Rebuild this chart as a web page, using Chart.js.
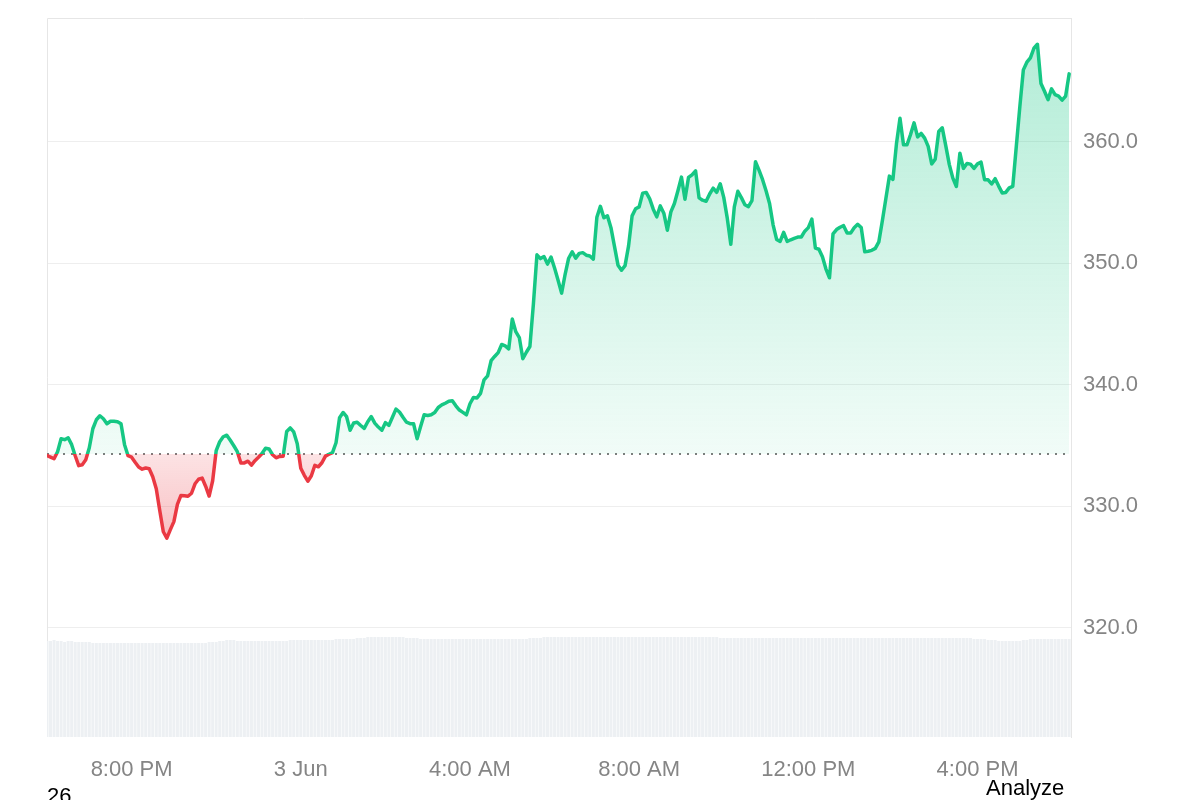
<!DOCTYPE html>
<html>
<head>
<meta charset="utf-8">
<title>Price chart</title>
<script src="https://cdn.jsdelivr.net/npm/chart.js@4.4.1/dist/chart.umd.min.js"></script>
<style>
  html, body { margin: 0; padding: 0; background: #fff; }
  #wrap { position: relative; width: 1200px; height: 800px; overflow: hidden; }
  canvas { display: block; }
  .note { position: absolute; font: 22px "Liberation Sans", Arial, sans-serif; line-height: 22px; color: #000; }
</style>
</head>
<body>
<div id="wrap">
  <canvas id="chart" width="1200" height="800"></canvas>
  <div class="note" style="left:47px;top:785px">26</div>
  <div class="note" style="left:986px;top:777px">Analyze</div>
</div>
<script>
// 24h of 5-minute closes, starting 6:00 PM on 2 Jun (hours counted from 2 Jun 00:00)
const START_HOUR = 18;
const STEP_MIN = 5;
const X_MIN = 18;
const X_MAX = 42.21;
const Y_MIN = 311;
const Y_MAX = 370.2;
const BASE_PRICE = 334.3; // opening price, dotted reference line

const prices = [
  334.16, 334.04, 333.91, 334.49, 335.56, 335.48, 335.64, 335.07, 334.16, 333.34,
  333.42, 333.83, 334.82, 336.38, 337.12, 337.45, 337.20, 336.79, 337.00, 336.99,
  336.96, 336.79, 335.07, 334.16, 334.04, 333.62, 333.23, 333.05, 333.15, 333.09,
  332.43, 331.44, 329.63, 327.90, 327.37, 328.07, 328.73, 330.16, 330.89, 330.87,
  330.82, 331.07, 331.85, 332.22, 332.32, 331.65, 330.84, 332.10, 334.57, 335.31,
  335.72, 335.85, 335.43, 334.98, 334.49, 333.56, 333.57, 333.71, 333.38, 333.75,
  334.03, 334.34, 334.78, 334.72, 334.24, 333.99, 334.10, 334.12, 336.16, 336.45,
  336.12, 335.15, 333.13, 332.55, 332.06, 332.51, 333.37, 333.25, 333.58, 334.13,
  334.28, 334.41, 335.23, 337.29, 337.72, 337.37, 336.25, 336.85, 336.92, 336.65,
  336.41, 336.96, 337.38, 336.85, 336.52, 336.26, 336.88, 336.66, 337.33, 338.00,
  337.76, 337.32, 336.92, 336.80, 336.79, 335.56, 336.56, 337.53, 337.47, 337.53,
  337.71, 338.13, 338.34, 338.48, 338.65, 338.69, 338.27, 337.92, 337.73, 337.53,
  338.44, 338.96, 338.92, 339.29, 340.41, 340.74, 341.98, 342.33, 342.65, 343.32,
  343.21, 342.96, 345.41, 344.37, 343.89, 342.14, 342.68, 343.15, 346.67, 350.70,
  350.39, 350.56, 349.94, 350.51, 349.62, 348.61, 347.55, 349.10, 350.42, 350.95,
  350.43, 350.82, 350.88, 350.67, 350.60, 350.35, 353.79, 354.69, 353.75, 353.91,
  352.94, 351.40, 349.85, 349.43, 349.81, 351.44, 353.91, 354.49, 354.65, 355.78,
  355.84, 355.31, 354.46, 353.83, 354.73, 354.13, 352.73, 354.24, 354.93, 355.97,
  357.10, 355.27, 357.07, 357.29, 357.62, 355.39, 355.20, 355.11, 355.71, 356.19,
  355.85, 356.55, 355.43, 353.72, 351.57, 354.65, 355.93, 355.41, 354.82, 354.67,
  355.16, 358.36, 357.67, 356.91, 355.97, 354.93, 353.17, 351.97, 351.80, 352.55,
  351.80, 351.94, 352.06, 352.16, 352.17, 352.65, 352.94, 353.64, 351.25, 351.16,
  350.54, 349.53, 348.81, 352.43, 352.78, 352.97, 353.10, 352.50, 352.49, 352.93,
  353.21, 352.95, 350.95, 351.00, 351.07, 351.23, 351.77, 353.50, 355.33, 357.18,
  356.91, 359.84, 361.94, 359.76, 359.76, 360.61, 361.57, 360.41, 360.70, 360.31,
  359.63, 358.19, 358.58, 360.85, 361.16, 359.67, 358.13, 357.02, 356.33, 359.07,
  357.82, 358.22, 358.17, 357.82, 358.19, 358.33, 356.88, 356.88, 356.54, 356.97,
  356.36, 355.80, 355.84, 356.21, 356.34, 359.62, 362.88, 365.93, 366.56, 366.92,
  367.71, 368.04, 364.80, 364.17, 363.48, 364.37, 363.89, 363.77, 363.43, 363.77,
  365.60
];

// volume per 5-minute bar (relative units)
const volumes = [
  96, 96, 97, 96, 96, 95, 96, 96, 95, 95,
  95, 95, 95, 94, 94, 94, 94, 94, 94, 94,
  94, 94, 94, 94, 94, 94, 94, 94, 94, 94,
  94, 94, 94, 94, 94, 94, 94, 94, 94, 94,
  94, 94, 94, 94, 94, 94, 95, 95, 95, 96,
  96, 97, 97, 97, 96, 96, 96, 96, 96, 96,
  96, 96, 96, 96, 96, 96, 96, 96, 96, 97,
  97, 97, 97, 97, 97, 97, 97, 97, 97, 97,
  97, 97, 98, 98, 98, 98, 98, 98, 99, 99,
  99, 100, 100, 100, 100, 100, 100, 100, 100, 100,
  100, 100, 99, 99, 99, 99, 98, 98, 98, 98,
  98, 98, 98, 98, 98, 98, 98, 98, 98, 98,
  98, 98, 98, 98, 98, 98, 98, 98, 98, 98,
  98, 98, 98, 98, 98, 98, 98, 99, 99, 99,
  99, 100, 100, 100, 100, 100, 100, 100, 100, 100,
  100, 100, 100, 100, 100, 100, 100, 100, 100, 100,
  100, 100, 100, 100, 100, 100, 100, 100, 100, 100,
  100, 100, 100, 100, 100, 100, 100, 100, 100, 100,
  100, 100, 100, 100, 100, 100, 100, 100, 100, 100,
  100, 99, 99, 99, 99, 99, 99, 99, 99, 99,
  99, 99, 99, 99, 99, 99, 99, 99, 99, 99,
  99, 99, 99, 99, 99, 99, 99, 99, 99, 99,
  99, 99, 99, 99, 99, 99, 99, 99, 99, 99,
  99, 99, 99, 99, 99, 99, 99, 99, 99, 99,
  99, 99, 99, 99, 99, 99, 99, 99, 99, 99,
  99, 99, 99, 99, 99, 99, 99, 99, 99, 99,
  99, 99, 99, 98, 98, 98, 98, 97, 97, 97,
  96, 96, 96, 96, 96, 96, 96, 97, 97, 98,
  98, 98, 98, 98, 98, 98, 98, 98, 98, 98,
  98
];

const xTickHours = [20, 24, 28, 32, 36, 40];
const xTickLabels = ["8:00 PM", "3 Jun", "4:00 AM", "8:00 AM", "12:00 PM", "4:00 PM"];
const yTicks = [320, 330, 340, 350, 360];

const GREEN = "#16c784";
const RED = "#ea3943";
const FONT = "'Liberation Sans', Arial, sans-serif";

const times = prices.map((_, i) => START_HOUR + (i * STEP_MIN) / 60);
const pricePoints = prices.map((p, i) => ({ x: times[i], y: p }));
const volumePoints = volumes.map((v, i) => ({ x: times[i], y: v }));

function baseFraction(chart) {
  const { chartArea, scales } = chart;
  const yb = scales.y.getPixelForValue(BASE_PRICE);
  return Math.min(1, Math.max(0, (yb - chartArea.top) / (chartArea.bottom - chartArea.top)));
}

function lineColor(ctx) {
  const chart = ctx.chart;
  if (!chart.chartArea || !chart.scales.y) return GREEN;
  const { top, bottom } = chart.chartArea;
  const f = baseFraction(chart);
  const g = chart.ctx.createLinearGradient(0, top, 0, bottom);
  g.addColorStop(0, GREEN);
  g.addColorStop(f, GREEN);
  g.addColorStop(f, RED);
  g.addColorStop(1, RED);
  return g;
}

function areaColor(ctx) {
  const chart = ctx.chart;
  if (!chart.chartArea || !chart.scales.y) return "rgba(22,199,132,0.15)";
  const { top, bottom } = chart.chartArea;
  const f = baseFraction(chart);
  const g = chart.ctx.createLinearGradient(0, top, 0, bottom);
  g.addColorStop(0, "rgba(22,199,132,0.34)");
  g.addColorStop(f, "rgba(22,199,132,0.06)");
  g.addColorStop(f, "rgba(234,57,67,0.14)");
  g.addColorStop(1, "rgba(234,57,67,0.75)");
  return g;
}

// left and top edges of the plot frame
const framePlugin = {
  id: "frame",
  beforeDatasetsDraw(chart) {
    const { ctx, chartArea: a } = chart;
    ctx.save();
    ctx.strokeStyle = "#e6e6e6";
    ctx.lineWidth = 1;
    ctx.beginPath();
    ctx.moveTo(a.left + 0.5, a.bottom);
    ctx.lineTo(a.left + 0.5, a.top + 0.5);
    ctx.lineTo(a.right, a.top + 0.5);
    ctx.stroke();
    ctx.restore();
  },
};

new Chart(document.getElementById("chart"), {
  data: {
    datasets: [
      {
        type: "line",
        label: "Price",
        data: pricePoints,
        order: 1,
        borderColor: lineColor,
        backgroundColor: areaColor,
        borderWidth: 3.5,
        borderJoinStyle: "round",
        borderCapStyle: "round",
        pointRadius: 0,
        tension: 0,
        fill: { value: BASE_PRICE },
        yAxisID: "y",
      },
      {
        type: "line",
        label: "Open",
        data: [{ x: X_MIN, y: BASE_PRICE }, { x: X_MAX, y: BASE_PRICE }],
        order: 2,
        borderColor: "#7d7d7d",
        borderWidth: 2,
        borderDash: [2, 6],
        pointRadius: 0,
        fill: false,
        yAxisID: "y",
      },
      {
        type: "bar",
        label: "Volume",
        data: volumePoints,
        order: 3,
        backgroundColor: "#edf0f3",
        barPercentage: 0.85,
        categoryPercentage: 1,
        yAxisID: "yv",
      },
    ],
  },
  options: {
    responsive: false,
    animation: false,
    events: [],
    layout: { padding: { left: 47, top: 18, right: 0, bottom: 0 } },
    plugins: { legend: { display: false }, tooltip: { enabled: false } },
    scales: {
      x: {
        type: "linear",
        min: X_MIN,
        max: X_MAX,
        offset: false,
        grid: { display: false, drawTicks: false },
        border: { display: false },
        afterBuildTicks: (scale) => {
          scale.ticks = xTickHours.map((v) => ({ value: v }));
        },
        afterFit: (scale) => {
          scale.height = 63;
          scale.paddingLeft = 0;
          scale.paddingRight = 0;
        },
        ticks: {
          autoSkip: false,
          maxRotation: 0,
          padding: 20,
          color: "#858585",
          font: { family: FONT, size: 22 },
          callback: (v, i) => xTickLabels[i],
        },
      },
      y: {
        position: "right",
        min: Y_MIN,
        max: Y_MAX,
        grid: { color: "#eeeeee", drawTicks: false },
        border: { display: true, color: "#e6e6e6" },
        afterBuildTicks: (scale) => {
          scale.ticks = yTicks.map((v) => ({ value: v }));
        },
        afterFit: (scale) => {
          scale.width = 129;
          scale.paddingTop = 0;
          scale.paddingBottom = 0;
        },
        ticks: {
          padding: 12,
          color: "#858585",
          font: { family: FONT, size: 22 },
          callback: (v) => Number(v).toFixed(1),
        },
      },
      yv: {
        display: false,
        min: 0,
        max: 719,
      },
    },
  },
  plugins: [framePlugin],
});
</script>
</body>
</html>
